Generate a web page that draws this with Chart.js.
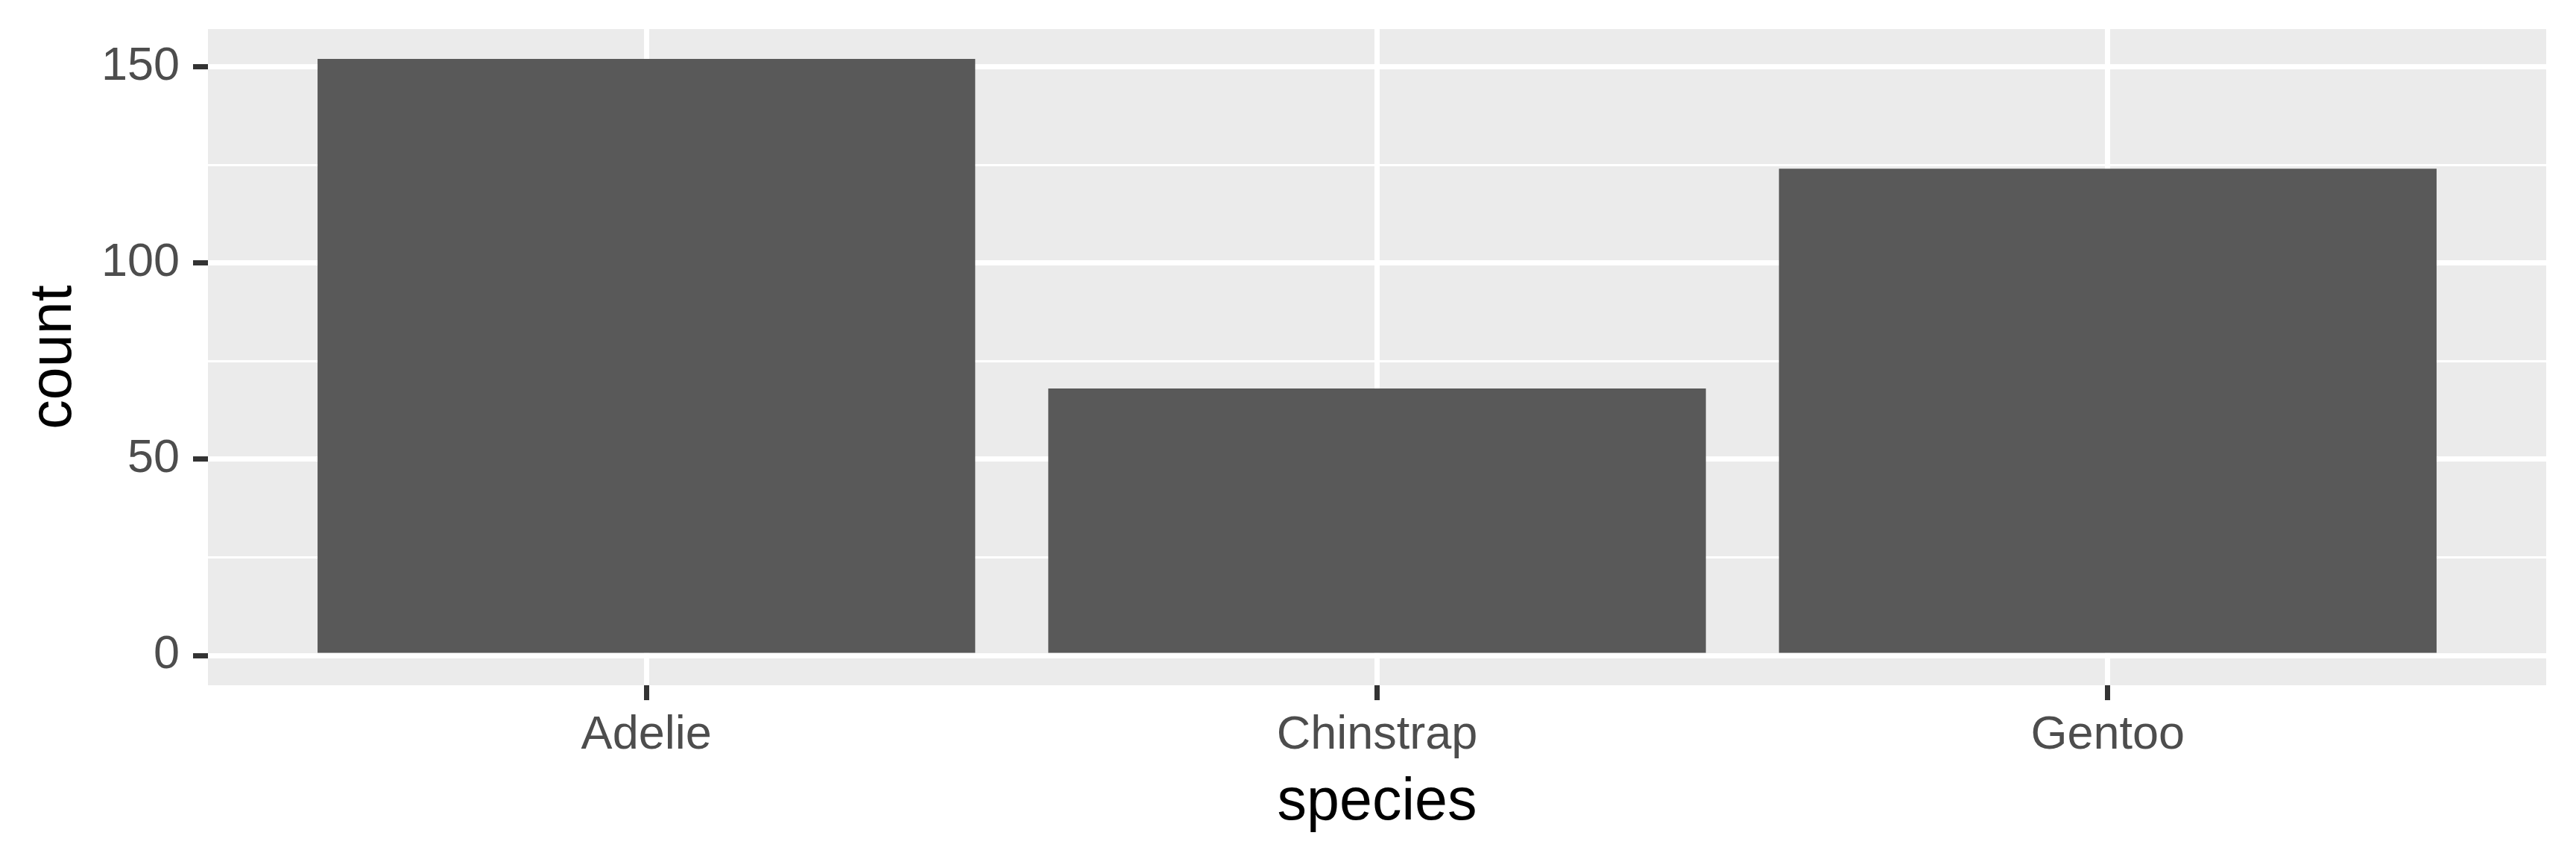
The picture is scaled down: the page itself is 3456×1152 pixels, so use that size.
<!DOCTYPE html>
<html>
<head>
<meta charset="utf-8">
<script src="https://cdn.jsdelivr.net/npm/chart.js@4"></script>
<style>
  html, body { margin: 0; padding: 0; background: #ffffff; }
  #wrap { width: 3456px; height: 1152px; }
</style>
</head>
<body>
<div id="wrap"><canvas id="chart" width="3456" height="1152"></canvas></div>
<script>
const species = ['Adelie', 'Chinstrap', 'Gentoo'];
const counts = [152, 68, 124];
const yTicks = [0, 25, 50, 75, 100, 125, 150];

const panelBg = {
    id: 'panelBg',
    beforeDraw(chart) {
        const { ctx, chartArea: a } = chart;
        ctx.save();
        ctx.fillStyle = '#EBEBEB';
        ctx.fillRect(a.left, a.top, a.right - a.left, a.bottom - a.top);
        ctx.restore();
    }
};

const isMajor = v => v % 50 === 0;

new Chart(document.getElementById('chart'), {
    type: 'bar',
    data: {
        datasets: [{
            data: species.map((s, i) => ({ x: i + 1, y: counts[i] })),
            backgroundColor: '#595959',
            borderWidth: 0,
            barPercentage: 0.9,
            categoryPercentage: 1.0
        }]
    },
    options: {
        responsive: false,
        devicePixelRatio: 1,
        animation: false,
        layout: { padding: { top: 39, right: 40, left: 0, bottom: 0 } },
        plugins: { legend: { display: false }, tooltip: { enabled: false } },
        scales: {
            x: {
                type: 'linear',
                min: 0.4,
                max: 3.6,
                offset: false,
                afterBuildTicks: s => { s.ticks = species.map((n, i) => ({ value: i + 1 })); },
                afterFit: s => { s.height = 233; s.paddingLeft = 0; s.paddingRight = 0; },
                border: { display: false },
                grid: {
                    offset: false,
                    color: '#ffffff',
                    lineWidth: 7,
                    tickColor: '#333333',
                    tickWidth: 7,
                    tickLength: 20
                },
                ticks: {
                    callback: v => species[v - 1],
                    color: '#4D4D4D',
                    font: { family: '"Liberation Sans", Arial, sans-serif', size: 63 },
                    padding: 10,
                    maxRotation: 0,
                    autoSkip: false
                },
                title: {
                    display: true,
                    text: 'species',
                    color: '#000000',
                    font: { family: '"Liberation Sans", Arial, sans-serif', size: 79 },
                    padding: { top: 0, bottom: 27 }
                }
            },
            y: {
                min: -7.6,
                max: 159.6,
                afterBuildTicks: s => { s.ticks = yTicks.map(v => ({ value: v })); },
                afterFit: s => { s.width = 279; s.paddingTop = 0; s.paddingBottom = 0; },
                border: { display: false },
                grid: {
                    color: '#ffffff',
                    lineWidth: c => isMajor(c.tick.value) ? 7 : 3,
                    tickColor: c => isMajor(c.tick.value) ? '#333333' : 'rgba(0,0,0,0)',
                    tickWidth: 7,
                    tickLength: 20
                },
                ticks: {
                    callback: v => isMajor(v) ? String(v) : '',
                    color: '#4D4D4D',
                    font: { family: '"Liberation Sans", Arial, sans-serif', size: 63 },
                    padding: 18,
                    autoSkip: false
                },
                title: {
                    display: true,
                    text: 'count',
                    color: '#000000',
                    font: { family: '"Liberation Sans", Arial, sans-serif', size: 79 },
                    padding: { top: 26, bottom: 0 }
                }
            }
        }
    },
    plugins: [panelBg]
});
</script>
</body>
</html>
